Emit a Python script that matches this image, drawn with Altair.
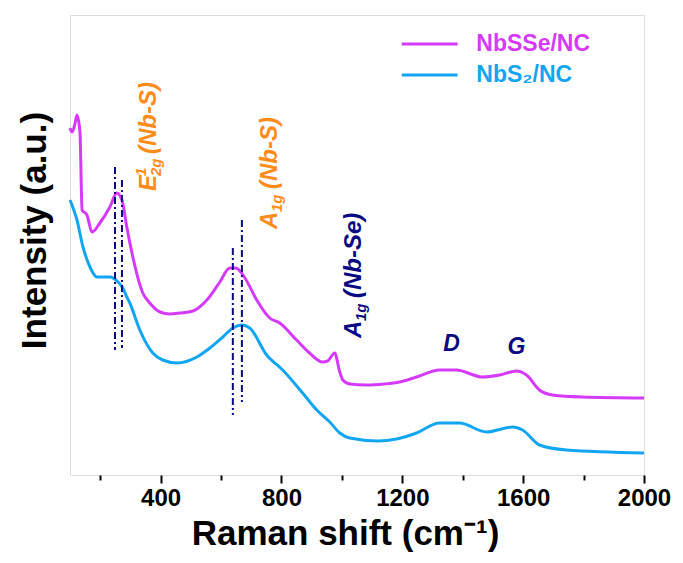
import altair as alt
import pandas as pd

# ---- data (intensity in arbitrary units) ----
nbsse_x = [100, 107, 117, 123, 133, 140, 156, 173, 199, 232, 255, 272, 288, 308, 341, 364, 398, 430, 464, 507, 553,
           596, 629, 649, 679, 718, 761, 794, 850, 893, 936, 953, 976, 993, 1003, 1026, 1082, 1140, 1191, 1247, 1323,
           1379, 1465, 1522, 1578, 1611, 1654, 1697, 1796, 2000]
nbsse_y = [347, 343, 352, 360, 343, 265, 260, 243, 252, 268, 282, 275, 248, 218, 182, 172, 163, 161, 162, 164, 175,
           193, 207, 207, 197, 175, 157, 152, 135, 122, 113, 114, 122, 103, 95, 91, 90, 91, 93, 98, 105,
           105, 98, 100, 104, 100, 85, 80, 78, 77]
nbs2_x = [100, 123, 143, 166, 189, 232, 259, 275, 288, 298, 331, 374, 407, 454, 520, 563, 606, 639, 669, 695,
          751, 804, 870, 917, 960, 993, 1026, 1120, 1181, 1247, 1323, 1389, 1479, 1565, 1598, 1654, 1743, 2000]
nbs2_y = [275, 255, 228, 208, 198, 198, 193, 187, 178, 172, 145, 122, 115, 112, 118, 127, 138, 147, 150, 147,
          120, 105, 82, 65, 53, 42, 37, 34, 36, 42, 52, 52, 43, 48, 45, 30, 25, 22]

series_names = ["NbSSe/NC", "NbS\u2082/NC"]
series_colors = ["#D63AF9", "#12A6F2"]

# vertical dash-dot marker lines (peak positions)
marker_x = [249, 272, 639, 669]
marker_top = [308, 295, 227, 255]
marker_bottom = [125, 127, 60, 73]

tick_values = [200, 400, 600, 800, 1000, 1200, 1400, 1600, 1800, 2000]

ORANGE = "#FF8C1A"
NAVY = "#0A0A80"

# annotation pieces (rotated text, laid out along the text direction)
ann_big = pd.DataFrame({
    "x": [384, 384, 784, 784, 1062, 1062],
    "y": [284, 284 + 37, 246, 246 + 40, 137, 137 + 40],
    "t": ["E", "(Nb-S)", "A", "(Nb-S)", "A", "(Nb-Se)"],
    "c": [ORANGE, ORANGE, ORANGE, ORANGE, NAVY, NAVY],
})
ann_small = pd.DataFrame({
    "x": [384 - 10 * 3.306, 384 + 5 * 3.306, 784 + 5 * 3.306, 1062 + 5 * 3.306],
    "y": [284 + 15, 284 + 15, 246 + 17, 137 + 17],
    "t": ["1", "2g", "1g", "1g"],
    "c": [ORANGE, ORANGE, ORANGE, NAVY],
})
band_labels = pd.DataFrame({"x": [1363, 1578], "y": [131, 128], "t": ["D", "G"]})

legend_df = pd.DataFrame({
    "name": series_names,
    "x1": [1198, 1198], "x2": [1383, 1383], "xt": [1445, 1445],
    "y": [431, 400],
})

# ---- build tables ----
df = pd.concat([
    pd.DataFrame({"shift": nbsse_x, "intensity": nbsse_y, "sample": series_names[0]}),
    pd.DataFrame({"shift": nbs2_x, "intensity": nbs2_y, "sample": series_names[1]}),
])
markers = pd.DataFrame({"x": marker_x, "top": marker_top, "bottom": marker_bottom})

xs = alt.Scale(domain=[100, 2000], nice=False, zero=False)
ys = alt.Scale(domain=[0, 460], nice=False, zero=False)
cs = alt.Scale(domain=series_names, range=series_colors)

x_axis = alt.Axis(
    values=tick_values,
    labelExpr="datum.value % 400 === 0 ? datum.label : ''",
    tickSize={"condition": {"test": "datum.value % 400 === 0", "value": 8}, "value": 5},
    tickWidth=2, tickColor="black", domain=False, grid=False,
    labelFont="Liberation Sans", labelFontWeight="bold", labelFontSize=24, labelColor="black",
    labelPadding=3, labelFlush=False,
    title="Raman shift (cm\u207b\u00b9)", titleFont="Liberation Sans", titleFontWeight="bold",
    titleFontSize=35, titleColor="black", titlePadding=6, titleX=275,
    format="d",
)
y_axis = alt.Axis(
    labels=False, ticks=False, domain=False, grid=False,
    title="Intensity (a.u.)", titleFont="Liberation Sans", titleFontWeight="bold",
    titleFontSize=35, titleColor="black", titlePadding=18, titleY=215,
)

lines = alt.Chart(df).mark_line(strokeWidth=3, interpolate="monotone").encode(
    x=alt.X("shift:Q", scale=xs, axis=x_axis),
    y=alt.Y("intensity:Q", scale=ys, axis=y_axis),
    color=alt.Color("sample:N", scale=cs, legend=None),
    detail="sample:N",
)

rules = alt.Chart(markers).mark_rule(color=NAVY, strokeWidth=2, strokeDash=[7, 3, 2, 3]).encode(
    x=alt.X("x:Q", scale=xs),
    y=alt.Y("top:Q", scale=ys),
    y2="bottom:Q",
)

big = alt.Chart(ann_big).mark_text(
    angle=270, align="left", baseline="alphabetic", font="Liberation Sans",
    fontStyle="italic", fontWeight="bold", fontSize=24,
).encode(x=alt.X("x:Q", scale=xs), y=alt.Y("y:Q", scale=ys), text="t:N", color=alt.Color("c:N", scale=None))

small = alt.Chart(ann_small).mark_text(
    angle=270, align="left", baseline="alphabetic", font="Liberation Sans",
    fontStyle="italic", fontWeight="bold", fontSize=15,
).encode(x=alt.X("x:Q", scale=xs), y=alt.Y("y:Q", scale=ys), text="t:N", color=alt.Color("c:N", scale=None))

bands = alt.Chart(band_labels).mark_text(
    align="center", baseline="middle", font="Liberation Sans",
    fontStyle="italic", fontWeight="bold", fontSize=23, color=NAVY,
).encode(x=alt.X("x:Q", scale=xs), y=alt.Y("y:Q", scale=ys), text="t:N")

leg_lines = alt.Chart(legend_df).mark_rule(strokeWidth=3).encode(
    x=alt.X("x1:Q", scale=xs), x2="x2:Q", y=alt.Y("y:Q", scale=ys),
    color=alt.Color("name:N", scale=cs, legend=None),
)
leg_text = alt.Chart(legend_df).mark_text(
    align="left", baseline="middle", font="Liberation Sans", fontWeight="bold", fontSize=23,
).encode(
    x=alt.X("xt:Q", scale=xs), y=alt.Y("y:Q", scale=ys), text="name:N",
    color=alt.Color("name:N", scale=cs, legend=None),
)

chart = alt.layer(lines, rules, big, small, bands, leg_lines, leg_text).properties(
    width=574, height=460,
    autosize=alt.AutoSizeParams(type="none"),
    padding={"left": 70, "top": 15, "right": 39, "bottom": 88},
).configure_view(stroke="black", strokeWidth=2.5).configure(background="white")

chart.save("out.html", embed_options={"renderer": "svg", "actions": False})
